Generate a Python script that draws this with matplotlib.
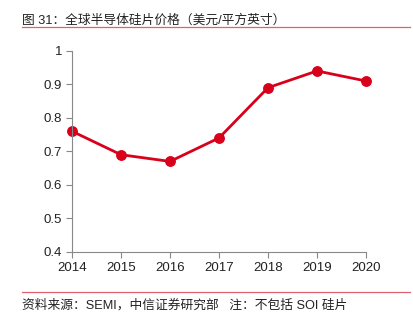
import matplotlib
matplotlib.use('Agg')
import matplotlib.pyplot as plt
from matplotlib.lines import Line2D

plt.rcParams['font.family'] = ['Liberation Sans', 'Noto Sans CJK SC', 'DejaVu Sans']

years = [2014, 2015, 2016, 2017, 2018, 2019, 2020]
prices = [0.76, 0.69, 0.67, 0.74, 0.89, 0.94, 0.91]
yticks = [0.4, 0.5, 0.6, 0.7, 0.8, 0.9, 1.0]
ytick_labels = ['0.4', '0.5', '0.6', '0.7', '0.8', '0.9', '1']

title = '图 31：全球半导体硅片价格（美元/平方英寸）'
source = '资料来源：SEMI，中信证券研究部   注：不包括 SOI 硅片'

red = '#d9001b'
grey = '#888888'

fig = plt.figure(figsize=(4.14, 3.28), dpi=100, facecolor='white')
ax = fig.add_axes([0.174, 0.232, 0.710, 0.613])

ax.plot(years, prices, color=red, linewidth=2.0, marker='o',
        markersize=6.8, markerfacecolor=red, markeredgecolor=red, clip_on=False)

ax.set_xlim(2014, 2020)
ax.set_ylim(0.4, 1.0)
ax.set_xticks(years)
ax.set_yticks(yticks)
ax.set_yticklabels(ytick_labels)

for s in ['top', 'right']:
    ax.spines[s].set_visible(False)
for s in ['left', 'bottom']:
    ax.spines[s].set_color(grey)
    ax.spines[s].set_linewidth(0.8)
ax.tick_params(direction='out', length=4, width=0.8, color=grey,
               labelsize=9.5, labelcolor='#222222', pad=3)

# ── title & footer ────────────────────────────────────────────
fig.text(0.053, 0.939, title, fontsize=9.2, color='#222222', va='center')
fig.add_artist(Line2D([0.053, 0.99], [0.918, 0.918], color='#e06070', linewidth=0.9))
fig.add_artist(Line2D([0.053, 0.99], [0.110, 0.110], color='#e06070', linewidth=0.9))
fig.text(0.053, 0.070, source, fontsize=9.2, color='#222222', va='center')

fig.savefig('out.png', dpi=100, facecolor='white')
